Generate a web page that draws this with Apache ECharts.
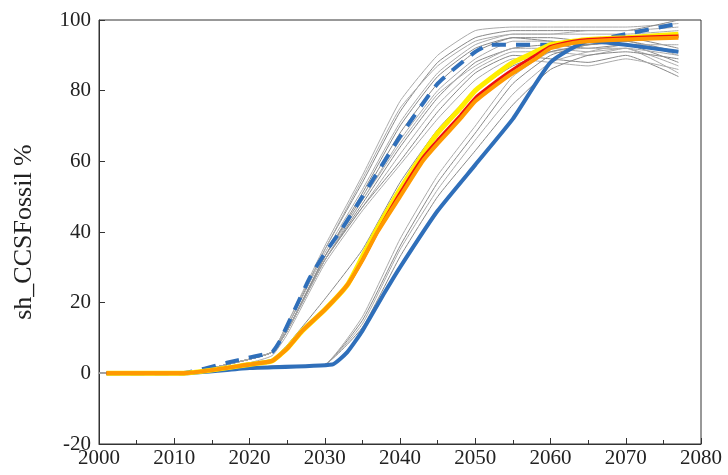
<!DOCTYPE html>
<html lang="en">
<head>
    <meta charset="UTF-8">
    <title>sh_CCSFossil</title>
    <script src="https://cdn.jsdelivr.net/npm/echarts@6/dist/echarts.min.js"></script>
    <style>
        body { margin: 0; background: #fff; }
        #chart { width: 728px; height: 475px; }
    </style>
</head>
<body>
<div id="chart"></div>
<script>
    // sample years for the gray ensemble
    var grayYears = [2000, 2011, 2020, 2023, 2025, 2030, 2035, 2040, 2045, 2050, 2055, 2060, 2065, 2070, 2077]
    var grayRuns = [
        [0, 0, 4, 6, 14, 36, 56, 77, 90, 97, 98, 98, 98, 98, 99],
        [0, 0, 4, 6, 13, 35, 54, 74, 88, 95, 97, 97, 97, 97, 100],
        [0, 0, 4, 6, 13, 34, 52, 71, 85, 93, 96, 96, 96, 96, 97],
        [0, 0, 4, 6, 12, 33, 50, 68, 82, 91, 95, 95, 94, 95, 92],
        [0, 0, 4, 6, 12, 33, 49, 66, 80, 89, 94, 94, 93, 94, 90],
        [0, 0, 4, 6, 12, 32, 48, 64, 78, 88, 92, 93, 92, 93, 88],
        [0, 0, 4, 6, 12, 32, 47, 62, 76, 86, 91, 91, 90, 92, 85],
        [0, 0, 4, 6, 12, 32, 47, 60, 74, 85, 90, 89, 88, 90, 84],
        [0, 0, 3, 5, 11, 31, 46, 59, 72, 83, 89, 88, 87, 89, 86],
        [0, 0, 4, 6, 12, 33, 51, 70, 84, 92, 95, 94, 93, 94, 91],
        [0, 0, 4, 6, 12, 32, 49, 65, 79, 87, 92, 92, 91, 92, 87],
        [0, 0, 1.5, 2, 2, 2.5, 13, 33, 50, 63, 76, 86, 90, 91, 89],
        [0, 0, 1.5, 2, 2, 2.5, 14, 35, 52, 66, 79, 88, 91, 93, 93],
        [0, 0, 1.5, 2, 2, 2.5, 15, 36, 54, 68, 82, 90, 93, 94, 95],
        [0, 0, 1.5, 2, 2, 2.5, 16, 38, 56, 70, 84, 91, 92, 92, 90],
        [0, 0, 3, 4, 8, 21, 35, 54, 69, 80, 87, 91, 93, 94, 96],
        [0, 0, 4, 6, 14, 35, 55, 75, 87, 94, 96, 96, 97, 97, 98]
    ]

    var blueSolidYears = [2001, 2011, 2020, 2031, 2033, 2035, 2038, 2040, 2045, 2050, 2055, 2060, 2065, 2070, 2077]
    var blueSolid = [0, 0, 1.5, 2.5, 6, 12, 23, 30, 46, 59, 72, 88, 94, 93, 91]

    var blueDashYears = [2001, 2011, 2017, 2020, 2023, 2024, 2026, 2028, 2030, 2032, 2035, 2040, 2045, 2050, 2052, 2060, 2065, 2070, 2077]
    var blueDash = [0, 0, 3, 4.5, 6, 9, 18, 27, 34, 40, 50, 67, 82, 91, 93, 93, 94, 96, 99]

    var orangeYears = [2001, 2011, 2020, 2023, 2025, 2027, 2030, 2033, 2035, 2037, 2040, 2043, 2045, 2048, 2050, 2053, 2055, 2058, 2060, 2063, 2065, 2070, 2077]
    var orange = [0, 0, 2.5, 3.5, 7, 12, 18, 25, 32, 40, 50, 60, 65, 72, 77, 82, 85, 89, 92, 93.5, 94, 94.5, 95]
    var yellow = [0, 0, 2.5, 3.5, 7, 12, 18, 25, 33, 41, 52, 62, 68, 75, 80, 85, 88, 91, 93, 94, 94.5, 95, 96]
    var red = [0, 0, 2.5, 3.5, 7, 12, 18, 25, 32, 40, 51, 61, 66, 73, 78, 83, 86, 90, 92.5, 94, 94.5, 95, 95.5]

    function pairs(xs, ys) {
        return xs.map(function (x, i) { return [x, ys[i]] })
    }

    var series = []
    grayRuns.forEach(function (run, i) {
        series.push({
            type: 'line', data: pairs(grayYears, run), smooth: 0.15, symbol: 'none',
            lineStyle: { color: i % 2 ? '#888' : '#aaa', width: 1 }, z: 1
        })
    })
    series.push({ type: 'line', data: pairs(blueSolidYears, blueSolid), smooth: 0.15, symbol: 'none',
        lineStyle: { color: '#2f6fba', width: 4 }, z: 3 })
    series.push({ type: 'line', data: pairs(blueDashYears, blueDash), smooth: 0.15, symbol: 'none',
        lineStyle: { color: '#2f6fba', width: 4, type: [14, 10] }, z: 3 })
    series.push({ type: 'line', data: pairs(orangeYears, yellow), smooth: 0.15, symbol: 'none',
        lineStyle: { color: '#ffee00', width: 5 }, z: 4 })
    series.push({ type: 'line', data: pairs(orangeYears, red), smooth: 0.15, symbol: 'none',
        lineStyle: { color: '#ee1111', width: 3 }, z: 5 })
    series.push({ type: 'line', data: pairs(orangeYears, orange), smooth: 0.15, symbol: 'none',
        lineStyle: { color: '#ff9900', width: 4 }, z: 6 })

    var font = 'Liberation Serif'
    var chart = echarts.init(document.getElementById('chart'))
    chart.setOption({
        animation: false,
        grid: { left: 99, right: 27, top: 20, bottom: 31, show: true, borderColor: '#333', borderWidth: 1 },
        xAxis: {
            type: 'value', min: 2000, max: 2080, interval: 10,
            axisLine: { onZero: false, lineStyle: { color: '#333' } },
            axisTick: { inside: true, length: 6, lineStyle: { color: '#333' } },
            minorTick: { show: true, splitNumber: 2, length: 4, lineStyle: { color: '#333' } },
            splitLine: { show: false },
            axisLabel: { color: '#222', fontFamily: font, fontSize: 21, margin: 4,
                formatter: function (v) { return String(v) } }
        },
        yAxis: {
            type: 'value', min: -20, max: 100, interval: 20,
            name: 'sh_CCSFossil %', nameLocation: 'middle', nameGap: 62,
            nameTextStyle: { color: '#222', fontFamily: font, fontSize: 26 },
            axisLine: { lineStyle: { color: '#333' } },
            axisTick: { inside: true, length: 6, lineStyle: { color: '#333' } },
            splitLine: { show: false },
            axisLabel: { color: '#222', fontFamily: font, fontSize: 21, margin: 8 }
        },
        series: series
    })
</script>
</body>
</html>
